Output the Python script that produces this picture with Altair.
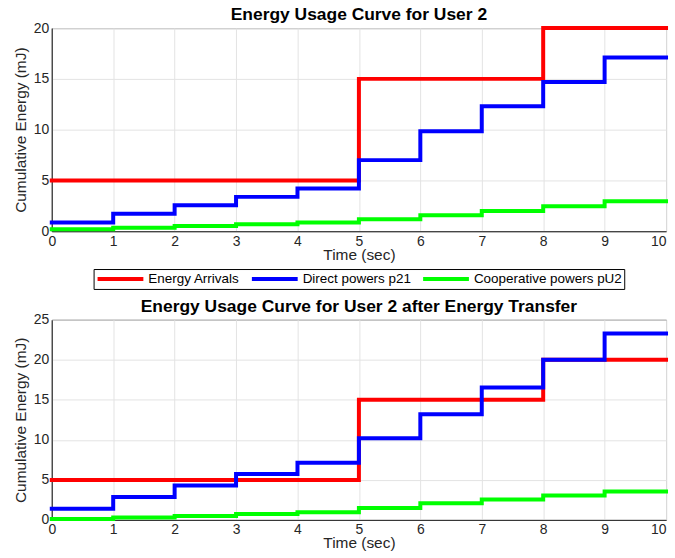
import altair as alt
import pandas as pd

times = [0, 1, 2, 3, 4, 5, 6, 7, 8, 9, 10]
series_names = ["Energy Arrivals", "Direct powers p21", "Cooperative powers pU2"]
series_colors = ["#FF0000", "#0000FF", "#00FF00"]

# top panel (values per 1-second slot, last repeated to close the step at t=10)
top_arrivals = [5, 5, 5, 5, 5, 15, 15, 15, 20, 20, 20]
top_direct = [0.85, 1.72, 2.55, 3.38, 4.2, 7.0, 9.84, 12.3, 14.7, 17.1, 17.1]
top_coop = [0.2, 0.33, 0.52, 0.69, 0.85, 1.18, 1.57, 2.0, 2.46, 2.95, 2.95]

# bottom panel
bot_arrivals = [5, 5, 5, 5, 5, 15, 15, 15, 20, 20, 20]
bot_direct = [1.4, 2.85, 4.3, 5.75, 7.15, 10.2, 13.2, 16.55, 20.0, 23.3, 23.3]
bot_coop = [0.12, 0.29, 0.5, 0.74, 0.95, 1.49, 2.07, 2.56, 3.06, 3.55, 3.55]

FONT = "Liberation Sans"


def make_df(arr, direct, coop):
    rows = []
    for name, vals in zip(series_names, [arr, direct, coop]):
        for t, v in zip(times, vals):
            rows.append({"time": t, "energy": v, "series": name})
    return pd.DataFrame(rows)


def panel(df, title, ymax, ystep, h, show_legend):
    color = alt.Color(
        "series:N",
        scale=alt.Scale(domain=series_names, range=series_colors),
        sort=series_names,
        legend=alt.Legend(
            orient="none",
            direction="horizontal",
            legendX=42,
            legendY=242,
            title=None,
            symbolType="stroke",
            symbolSize=2116,
            symbolStrokeWidth=4,
            clipHeight=16,
            labelFont=FONT,
            labelFontSize=13.5,
            labelColor="#000000",
            labelLimit=300,
            labelOffset=3,
            strokeColor="#000000",
            padding=2,
            columnPadding=10,
            symbolOffset=0,
            fillColor="#ffffff",
        ) if show_legend else None,
    )
    return (
        alt.Chart(df, title=alt.TitleParams(title, fontSize=17.5, font=FONT, fontWeight="bold", color="#000000", offset=-3))
        .mark_line(interpolate="step-after", strokeWidth=4, strokeCap="square")
        .encode(
            x=alt.X("time:Q", title="Time (sec)",
                    scale=alt.Scale(domain=[0, 10], nice=False),
                    axis=alt.Axis(values=list(range(0, 11)), titlePadding=-1,
                                  labelAlign=alt.ExprRef("datum.value == 10 ? 'right' : 'center'"))),
            y=alt.Y("energy:Q", title="Cumulative Energy (mJ)",
                    scale=alt.Scale(domain=[0, ymax], nice=False),
                    axis=alt.Axis(values=list(range(0, ymax + 1, ystep)), titlePadding=5)),
            color=color,
            order=alt.Order("order:Q"),
        )
        .transform_calculate(order="indexof(['Energy Arrivals','Direct powers p21','Cooperative powers pU2'], datum.series)")
        .properties(width=617, height=h)
    )


top = panel(make_df(top_arrivals, top_direct, top_coop), "Energy Usage Curve for User 2", 20, 5, 204, True)
bot = panel(make_df(bot_arrivals, bot_direct, bot_coop), "Energy Usage Curve for User 2 after Energy Transfer", 25, 5, 201, False)

chart = (
    alt.vconcat(top, bot, spacing=35)
    .configure(background="#ffffff", padding={"left": 12, "top": 4, "right": 0, "bottom": 0})
    .configure_view(stroke="#262626", strokeWidth=1)
    .configure_axis(
        grid=True,
        gridColor="#e3e3e3",
        gridWidth=1,
        domainColor="#262626",
        ticks=False,
        labelFont=FONT,
        labelFontSize=14,
        labelColor="#262626",
        titleFont=FONT,
        titleFontSize=15.5,
        titleFontWeight="normal",
        titleColor="#262626",
        labelPadding=3,
    )
)

chart.save("out.html", embed_options={"renderer": "svg", "actions": False})
